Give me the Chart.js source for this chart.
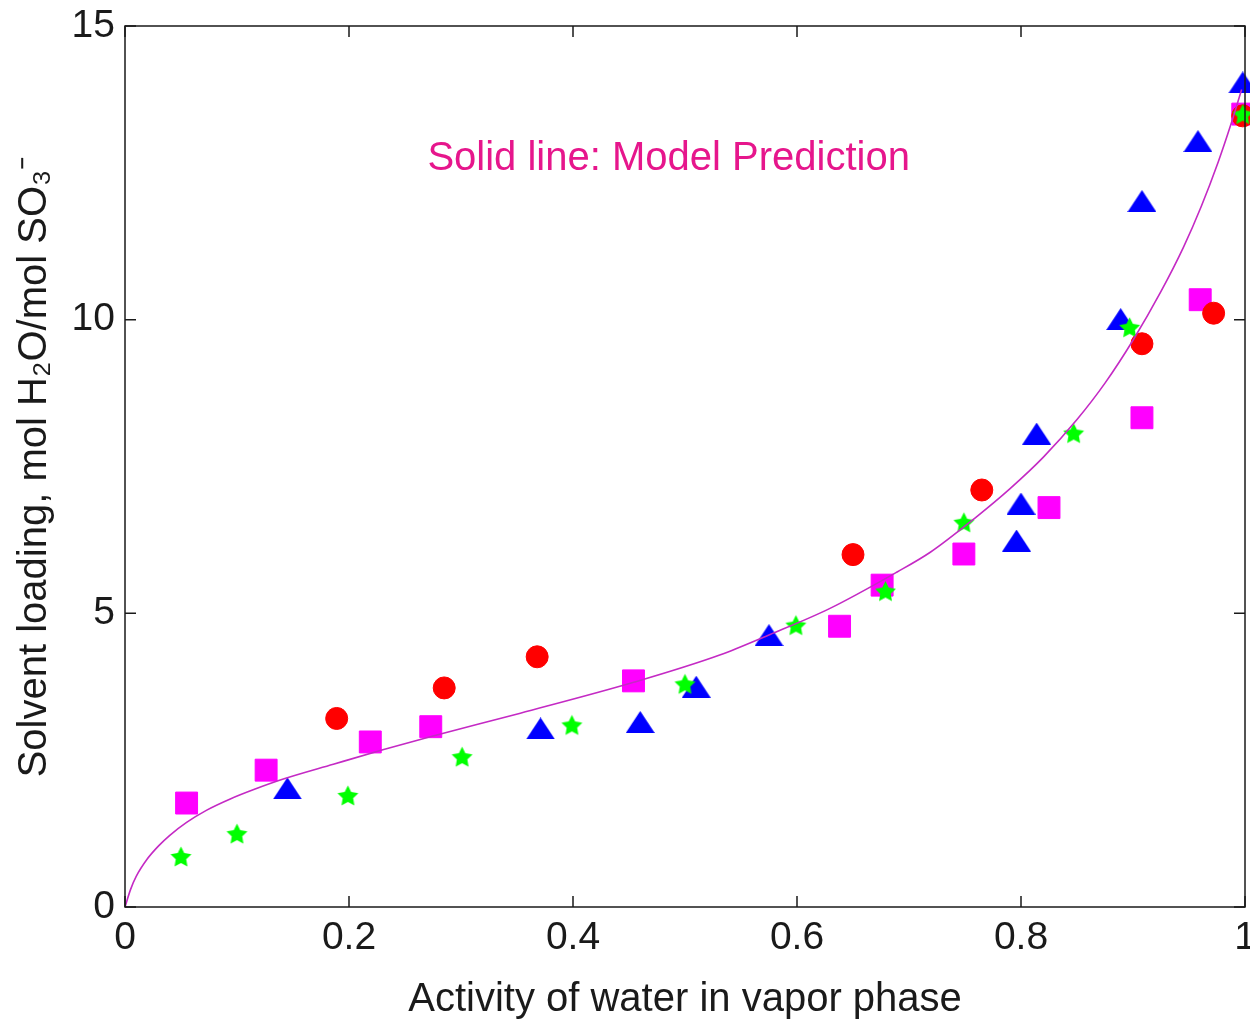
<!DOCTYPE html>
<html>
<head>
<meta charset="utf-8">
<title>Solvent loading vs water activity</title>
<script src="https://cdn.jsdelivr.net/npm/chart.js@4.4.1/dist/chart.umd.min.js"></script>
<style>
  html, body { margin: 0; padding: 0; background: #fff; }
</style>
</head>
<body>
<canvas id="loadingChart" width="1250" height="1024"></canvas>
<script>
// values (water activity, mol H2O / mol SO3-)
const squareAw = [0.055, 0.126, 0.219, 0.273, 0.454, 0.638, 0.676, 0.749, 0.825, 0.908, 0.960, 0.998];
const squareLoad = [1.77, 2.33, 2.81, 3.07, 3.85, 4.78, 5.48, 6.01, 6.80, 8.33, 10.34, 13.50];

const circleAw = [0.189, 0.285, 0.368, 0.650, 0.765, 0.908, 0.972, 0.998];
const circleLoad = [3.21, 3.73, 4.26, 6.00, 7.10, 9.59, 10.11, 13.47];

const triangleAw = [0.145, 0.371, 0.460, 0.510, 0.575, 0.796, 0.800, 0.814, 0.889, 0.908, 0.958, 0.998];
const triangleLoad = [2.02, 3.04, 3.15, 3.75, 4.63, 6.24, 6.87, 8.06, 10.01, 12.02, 13.04, 14.04];

const starAw = [0.050, 0.100, 0.199, 0.301, 0.399, 0.500, 0.599, 0.679, 0.749, 0.847, 0.897, 0.998];
const starLoad = [0.86, 1.25, 1.90, 2.56, 3.10, 3.80, 4.80, 5.38, 6.55, 8.07, 9.87, 13.50];

// model prediction curve, traced point by point
const modelAw = [0, 0.005, 0.010, 0.020, 0.030, 0.040, 0.055, 0.073, 0.094, 0.115, 0.140, 0.186, 0.231, 0.275,
  0.353, 0.455, 0.531, 0.576, 0.629, 0.689, 0.719, 0.760, 0.790, 0.820, 0.850, 0.875, 0.900, 0.925, 0.945,
  0.961, 0.976, 0.987, 0.997];
const modelLoad = [0, 0.30, 0.52, 0.82, 1.04, 1.22, 1.44, 1.65, 1.84, 2.00, 2.17, 2.43, 2.68, 2.91,
  3.30, 3.83, 4.29, 4.64, 5.08, 5.70, 6.04, 6.64, 7.12, 7.66, 8.30, 8.92, 9.65, 10.48, 11.23,
  11.93, 12.68, 13.30, 13.92];

const xTicks = [0, 0.2, 0.4, 0.6, 0.8, 1];
const yTicks = [0, 5, 10, 15];

const xTitle = 'Activity of water in vapor phase';
const yTitle = 'Solvent loading, mol H\u2082O/mol SO\u2083\u207B';
const note = 'Solid line: Model Prediction';

const FONT = '"Liberation Sans", Arial, Helvetica, sans-serif';
const INK = '#1a1a1a';

function pairs(xs, ys) {
    return xs.map((x, i) => ({ x: x, y: ys[i] }));
}

// filled triangle marker (matlab '^')
function triangleMarker(w, h, color) {
    const c = document.createElement('canvas');
    c.width = w; c.height = h;
    const g = c.getContext('2d');
    g.fillStyle = color;
    g.beginPath();
    g.moveTo(w / 2, 0);
    g.lineTo(w, h);
    g.lineTo(0, h);
    g.closePath();
    g.fill();
    return c;
}

// filled five point star (matlab 'p')
function starMarker(size, color) {
    const c = document.createElement('canvas');
    c.width = size; c.height = size;
    const g = c.getContext('2d');
    const R = size / 2 - 0.5;
    const r = R * 0.5;
    const cx = size / 2;
    const cy = size / 2 + R * 0.095;
    g.fillStyle = color;
    g.beginPath();
    for (let i = 0; i < 10; i++) {
        const a = -Math.PI / 2 + i * Math.PI / 5;
        const rad = i % 2 ? r : R;
        const px = cx + Math.cos(a) * rad;
        const py = cy + Math.sin(a) * rad;
        if (i === 0) g.moveTo(px, py); else g.lineTo(px, py);
    }
    g.closePath();
    g.fill();
    return c;
}

// box, inward ticks and the annotation
const framePlugin = {
    id: 'frame',
    afterDatasetsDraw(chart) {
        const { ctx, chartArea: a, scales } = chart;
        const x = scales.x, y = scales.y;
        ctx.save();
        ctx.strokeStyle = INK;
        ctx.lineWidth = 1.5;
        ctx.strokeRect(a.left, a.top, a.right - a.left, a.bottom - a.top);
        ctx.beginPath();
        xTicks.forEach(v => {
            const px = x.getPixelForValue(v);
            ctx.moveTo(px, a.bottom); ctx.lineTo(px, a.bottom - 11);
            ctx.moveTo(px, a.top); ctx.lineTo(px, a.top + 11);
        });
        yTicks.forEach(v => {
            const py = y.getPixelForValue(v);
            ctx.moveTo(a.left, py); ctx.lineTo(a.left + 11, py);
            ctx.moveTo(a.right, py); ctx.lineTo(a.right - 11, py);
        });
        ctx.stroke();

        ctx.fillStyle = '#e6168c';
        ctx.font = '40px ' + FONT;
        ctx.textAlign = 'left';
        ctx.textBaseline = 'middle';
        ctx.fillText(note, x.getPixelForValue(0.27), y.getPixelForValue(12.74));
        ctx.restore();
    }
};

new Chart(document.getElementById('loadingChart'), {
    type: 'scatter',
    data: {
        datasets: [
            {
                label: 'Model Prediction',
                data: pairs(modelAw, modelLoad),
                showLine: true,
                borderColor: '#c42ac4',
                borderWidth: 1.6,
                pointRadius: 0,
                cubicInterpolationMode: 'monotone',
                fill: false
            },
            {
                label: 'Series 4',
                data: pairs(starAw, starLoad),
                pointStyle: starMarker(23, '#00ff00'),
                pointRadius: 11,
                clip: false
            },
            {
                label: 'Series 2',
                data: pairs(circleAw, circleLoad),
                pointStyle: 'circle',
                pointRadius: 11,
                backgroundColor: '#ff0000',
                borderColor: '#ff0000',
                borderWidth: 1,
                clip: false
            },
            {
                label: 'Series 3',
                data: pairs(triangleAw, triangleLoad),
                pointStyle: triangleMarker(29, 22, '#0000ff'),
                pointRadius: 13,
                clip: false
            },
            {
                label: 'Series 1',
                data: pairs(squareAw, squareLoad),
                pointStyle: 'rect',
                pointRadius: 15.5,
                backgroundColor: '#ff00ff',
                borderColor: '#ff00ff',
                borderWidth: 1,
                clip: false
            }
        ]
    },
    options: {
        responsive: false,
        animation: false,
        layout: { autoPadding: false, padding: { top: 26, right: 5, left: 0, bottom: 0 } },
        plugins: {
            legend: { display: false },
            tooltip: { enabled: false }
        },
        scales: {
            x: {
                type: 'linear',
                position: 'bottom',
                min: 0,
                max: 1,
                grid: { display: false, drawTicks: false },
                border: { display: false },
                afterBuildTicks: s => { s.ticks = xTicks.map(v => ({ value: v })); },
                afterFit: s => { s.height = 117; s.paddingLeft = 0; s.paddingRight = 0; },
                ticks: {
                    color: INK,
                    font: { family: FONT, size: 39 },
                    padding: 8,
                    maxRotation: 0,
                    autoSkip: false,
                    callback: v => String(v)
                },
                title: {
                    display: true,
                    text: xTitle,
                    color: INK,
                    font: { family: FONT, size: 40 },
                    padding: { top: 0, bottom: 0 }
                }
            },
            y: {
                type: 'linear',
                position: 'left',
                min: 0,
                max: 15,
                grid: { display: false, drawTicks: false },
                border: { display: false },
                afterBuildTicks: s => { s.ticks = yTicks.map(v => ({ value: v })); },
                afterFit: s => { s.width = 125; s.paddingTop = 0; s.paddingBottom = 0; },
                ticks: {
                    color: INK,
                    font: { family: FONT, size: 39 },
                    padding: 10,
                    callback: v => String(v)
                },
                title: {
                    display: true,
                    text: yTitle,
                    color: INK,
                    font: { family: FONT, size: 40 },
                    padding: { top: 11, bottom: 0 }
                }
            }
        }
    },
    plugins: [framePlugin]
});
</script>
</body>
</html>
